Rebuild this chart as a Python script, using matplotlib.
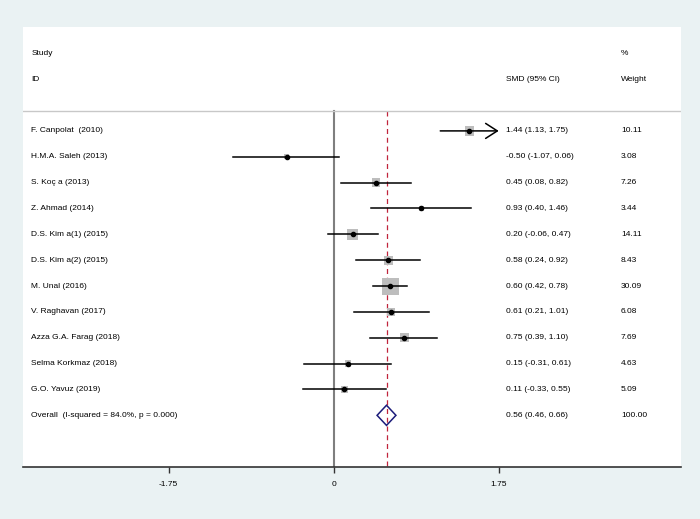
import numpy as np
import matplotlib.pyplot as plt

studies = ["F. Canpolat  (2010)", "H.M.A. Saleh (2013)", "S. Koç a (2013)",
           "Z. Ahmad (2014)", "D.S. Kim a(1) (2015)", "D.S. Kim a(2) (2015)",
           "M. Unal (2016)", "V. Raghavan (2017)", "Azza G.A. Farag (2018)",
           "Selma Korkmaz (2018)", "G.O. Yavuz (2019)"]
smd = [1.44, -0.50, 0.45, 0.93, 0.20, 0.58, 0.60, 0.61, 0.75, 0.15, 0.11]
lo = [1.13, -1.07, 0.08, 0.40, -0.06, 0.24, 0.42, 0.21, 0.39, -0.31, -0.33]
hi = [1.75, 0.06, 0.82, 1.46, 0.47, 0.92, 0.78, 1.01, 1.10, 0.61, 0.55]
weights = [10.11, 3.08, 7.26, 3.44, 14.11, 8.43, 30.09, 6.08, 7.69, 4.63, 5.09]

overall_label = "Overall  (I-squared = 84.0%, p = 0.000)"
overall = 0.56
overall_lo = 0.46
overall_hi = 0.66
overall_weight = 100.00

xticks = [-1.75, 0, 1.75]
xtick_labels = ["-1.75", "0", "1.75"]
xmax_plot = 1.75

plt.rcParams['font.family'] = ['Liberation Sans', 'DejaVu Sans']
fs = 6

fig = plt.figure(figsize=(7, 5.19), dpi=100)
fig.patch.set_facecolor('#eaf2f3')
ax = fig.add_axes([23.3 / 700, 1 - 467.3 / 519, (681 - 23.3) / 700, (467.3 - 26.7) / 519])
ax.set_facecolor('white')

# pixel -> data scale: 0 at 333.7px, 94.29 px per unit
ppu = 94.29
ax.set_xlim((23.3 - 333.7) / ppu, (681 - 333.7) / ppu)
ax.set_ylim(13.01, -4.03)

x_lab = (31.3 - 333.7) / ppu
x_smd = (506 - 333.7) / ppu
x_wt = (621 - 333.7) / ppu
line_top = -0.77

# header
ax.text(x_lab, -3, "Study", fontsize=fs, va='center')
ax.text(x_lab, -2, "ID", fontsize=fs, va='center')
ax.text(x_smd, -2, "SMD (95% CI)", fontsize=fs, va='center')
ax.text(x_wt, -3, "%", fontsize=fs, va='center')
ax.text(x_wt, -2, "Weight", fontsize=fs, va='center')
ax.axhline(line_top, color='#c8c8c8', lw=1)

n = len(studies)
ys = np.arange(n)

# reference lines
ax.plot([0, 0], [line_top, 13.01], color='#7f7f7f', lw=1.5, zorder=1)
ax.plot([overall, overall], [line_top, 13.01], color='#c0243c', lw=0.9,
        dashes=(4, 3), zorder=1)

# squares sized by weight
side_px = 17 * np.sqrt(np.array(weights) / max(weights))
ax.scatter(smd, ys, marker='s', s=(side_px * 0.72) ** 2, color='#bdbdbd',
           edgecolors='none', zorder=2)

for i in range(n):
    if hi[i] >= xmax_plot:
        ax.annotate("", xy=(xmax_plot, i), xytext=(lo[i], i),
                    arrowprops=dict(arrowstyle='->,head_length=0.7,head_width=0.45',
                                    color='black', lw=1.1, mutation_scale=12,
                                    shrinkA=0, shrinkB=0), zorder=3)
    else:
        ax.plot([lo[i], hi[i]], [i, i], color='black', lw=1.1, zorder=3)
    ax.plot(smd[i], i, marker='o', color='black', ms=3, zorder=4)
    ax.text(x_lab, i, studies[i], fontsize=fs, va='center')
    ax.text(x_smd, i, f"{smd[i]:.2f} ({lo[i]:.2f}, {hi[i]:.2f})", fontsize=fs, va='center')
    ax.text(x_wt, i, f"{weights[i]:.2f}", fontsize=fs, va='center')

# overall diamond
yo = n
dh = 0.39
ax.fill([overall_lo, overall, overall_hi, overall, overall_lo],
        [yo, yo - dh, yo, yo + dh, yo], facecolor='none', edgecolor='#1c1c7a',
        lw=1.1, zorder=4)
ax.text(x_lab, yo, overall_label, fontsize=fs, va='center')
ax.text(x_smd, yo, f"{overall:.2f} ({overall_lo:.2f}, {overall_hi:.2f})", fontsize=fs, va='center')
ax.text(x_wt, yo, f"{overall_weight:.2f}", fontsize=fs, va='center')

# axes styling
for s in ['top', 'right', 'left']:
    ax.spines[s].set_visible(False)
ax.spines['bottom'].set_color('#333333')
ax.spines['bottom'].set_linewidth(1.2)
ax.set_xticks(xticks)
ax.set_xticklabels(xtick_labels, fontsize=fs)
ax.tick_params(axis='x', length=4, width=1, color='#333333', pad=6)
ax.set_yticks([])

fig.savefig("out.png", dpi=100, facecolor=fig.get_facecolor())
